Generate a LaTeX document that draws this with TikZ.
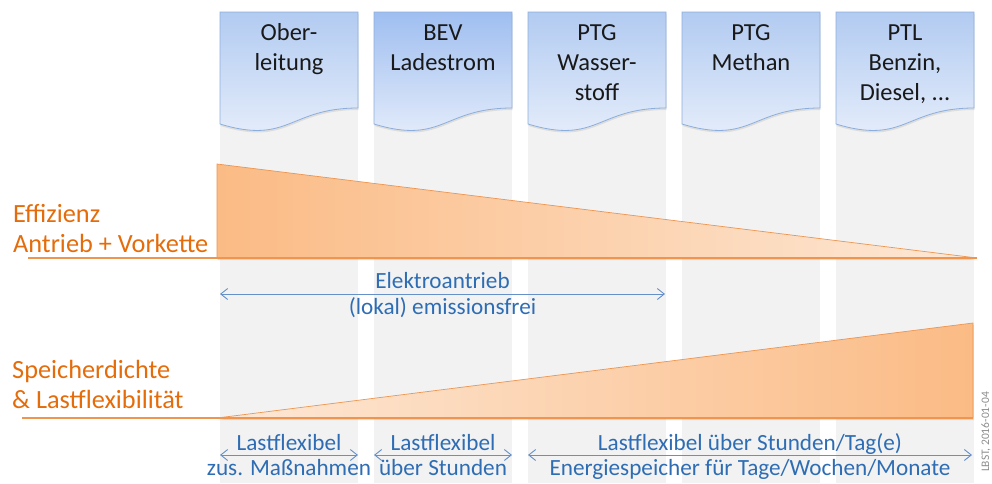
\documentclass[tikz,border=0pt]{standalone}
\usepackage{fontspec}
\setmainfont{Carlito}
\usetikzlibrary{arrows.meta,shadows}

\definecolor{docedge}{HTML}{8DAEDC}
\definecolor{doctop}{HTML}{B2CBF1}
\definecolor{doctopdeep}{HTML}{9FBEF0}
\definecolor{docbot}{HTML}{E8EFFB}
\definecolor{strip}{HTML}{F2F2F2}
\definecolor{orangetxt}{HTML}{E46C0A}
\definecolor{orangeline}{HTML}{EE9550}
\definecolor{orangedeep}{HTML}{FBBB85}
\definecolor{orangepale}{HTML}{FDE8D6}
\definecolor{bluetxt}{HTML}{2E6DB4}
\definecolor{bluearrow}{HTML}{6690C8}
\definecolor{stamp}{HTML}{8C8C8C}

\begin{document}
\begin{tikzpicture}[x=1pt,y=-1pt,
  docbox/.style={draw=docedge, line width=0.8pt, top color=doctop, bottom color=docbot,
    drop shadow={opacity=0.18, shadow xshift=0.5pt, shadow yshift=-2pt}},
  doctext/.style={anchor=base, inner sep=0pt, text=black!90, font=\fontsize{24.5}{30}\selectfont},
  sidelabel/.style={anchor=base west, inner sep=0pt, text=orangetxt, font=\fontsize{26.3}{30}\selectfont},
  bluetext/.style={anchor=base, inner sep=0pt, text=bluetxt, font=\fontsize{23.2}{26}\selectfont},
  wedge/.style={draw=orangeline, line width=0.7pt,
    drop shadow={opacity=0.25, shadow xshift=0.5pt, shadow yshift=-2pt}},
  baseline rule/.style={draw=orangeline, line width=1.2pt},
  span/.style={draw=bluearrow, line width=0.9pt, {Straight Barb[length=7pt,width=11pt]}-{Straight Barb[length=7pt,width=11pt]}}
]
\useasboundingbox (0,0) rectangle (992,483);

% grey columns behind the five energy paths
\foreach \x in {220,374,528,682,836}
  \fill[strip] (\x,60) rectangle ({\x+138},483);

% efficiency wedge (falling to the right)
\path[wedge, left color=orangedeep, right color=orangepale]
  (217,164) -- (977,258) -- (217,258) -- cycle;
\draw[baseline rule] (28,258) -- (977,258);

% storage density wedge (rising to the right)
\path[wedge, left color=orangepale, right color=orangedeep]
  (217,418) -- (973,323) -- (973,418) -- cycle;
\draw[baseline rule] (22,418) -- (973,418);

% document-shaped headers
\foreach \x/\c in {220/doctop,374/doctopdeep,528/doctop,682/doctop,836/doctop}
  \path[docbox, top color=\c] (\x,12) -- ({\x+138},12) -- ({\x+138},108)
    .. controls ({\x+69},108) and ({\x+69},145) .. (\x,124) -- cycle;

\node[doctext] (ober) at (289,40) {\begin{tabular}[t]{@{}c@{}}Ober-\\leitung\end{tabular}};
\node[doctext] (bev)  at (443,40) {\begin{tabular}[t]{@{}c@{}}BEV\\Ladestrom\end{tabular}};
\node[doctext] (h2)   at (597,40) {\begin{tabular}[t]{@{}c@{}}PTG\\Wasser-\\stoff\end{tabular}};
\node[doctext] (ch4)  at (751,40) {\begin{tabular}[t]{@{}c@{}}PTG\\Methan\end{tabular}};
\node[doctext] (ptl)  at (905,40) {\begin{tabular}[t]{@{}c@{}}PTL\\Benzin,\\Diesel, ...\end{tabular}};

% axis labels
\node[sidelabel] (eff) at (13,222.7) {\begin{tabular}[t]{@{}l@{}}Effizienz\\Antrieb + Vorkette\end{tabular}};
\node[sidelabel] (spd) at (12,378) {\begin{tabular}[t]{@{}l@{}}Speicherdichte\\\& Lastflexibilität\end{tabular}};

% electric drive span
\coordinate (ea) at (220,294);
\coordinate (eb) at (665,294);
\draw[span] (ea) -- (eb);
\node[bluetext] (el1) at (442.5,288) {Elektroantrieb};
\node[bluetext] (el2) at (442.5,314) {(lokal) emissionsfrei};

% load flexibility spans
\coordinate (f1a) at (220,455);
\coordinate (f1b) at (358,455);
\coordinate (f2a) at (374,455);
\coordinate (f2b) at (512,455);
\coordinate (f3a) at (528,455);
\coordinate (f3b) at (972,455);
\draw[span] (f1a) -- (f1b);
\draw[span] (f2a) -- (f2b);
\draw[span] (f3a) -- (f3b);
\node[bluetext] (t1a) at (289,450) {Lastflexibel};
\node[bluetext] (t1b) at (289,475) {zus. Maßnahmen};
\node[bluetext] (t2a) at (443,450) {Lastflexibel};
\node[bluetext] (t2b) at (443,475) {über Stunden};
\node[bluetext] (t3a) at (750,450) {Lastflexibel über Stunden/Tag(e)};
\node[bluetext] (t3b) at (750,475) {Energiespeicher für Tage/Wochen/Monate};

% source stamp
\node[rotate=90, inner sep=0pt, text=stamp, font=\fontsize{11.5}{13}\selectfont] (src) at (986,432) {LBST, 2016-01-04};
\end{tikzpicture}
\end{document}
